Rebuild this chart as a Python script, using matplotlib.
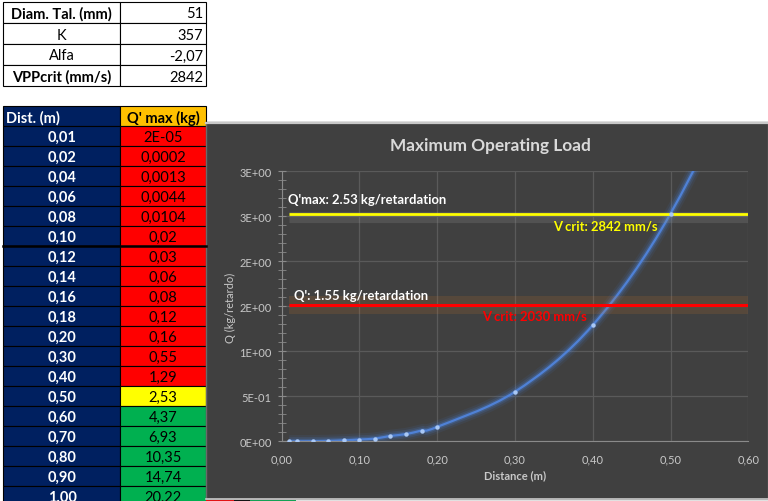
import matplotlib
matplotlib.use('Agg')
import matplotlib.pyplot as plt
from matplotlib.patches import Rectangle, PathPatch
from matplotlib.path import Path

plt.rcParams['font.family'] = ['Lato', 'DejaVu Sans']

W, H = 768, 502

# top parameter table
param_names = ['Diam. Tal. (mm)', 'K', 'Alfa', 'VPPcrit (mm/s)']
param_values = ['51', '357', '-2,07', '2842']
param_bold = [True, False, False, True]

# distance / load table (also the chart series)
dist = [0.01, 0.02, 0.04, 0.06, 0.08, 0.10, 0.12, 0.14, 0.16, 0.18, 0.20,
        0.30, 0.40, 0.50, 0.60, 0.70, 0.80, 0.90, 1.00]
dist_labels = ['0,01', '0,02', '0,04', '0,06', '0,08', '0,10', '0,12', '0,14',
               '0,16', '0,18', '0,20', '0,30', '0,40', '0,50', '0,60', '0,70',
               '0,80', '0,90', '1,00']
q_max = [0.00002, 0.0002, 0.0013, 0.0044, 0.0104, 0.02, 0.03, 0.06, 0.08,
         0.12, 0.16, 0.55, 1.29, 2.53, 4.37, 6.93, 10.35, 14.74, 20.22]
q_labels = ['2E-05', '0,0002', '0,0013', '0,0044', '0,0104', '0,02', '0,03',
            '0,06', '0,08', '0,12', '0,16', '0,55', '1,29', '2,53', '4,37',
            '6,93', '10,35', '14,74', '20,22']

q_max_limit = 2.53   # Q'max, yellow line
q_prime_line = 1.51  # Q', red line (as drawn)

x_ticks = [0.0, 0.1, 0.2, 0.3, 0.4, 0.5, 0.6]
x_tick_labels = ['0,00', '0,10', '0,20', '0,30', '0,40', '0,50', '0,60']
y_ticks = [0.0, 0.5, 1.0, 1.5, 2.0, 2.5, 3.0]
y_tick_labels = ['0E+00', '5E-01', '1E+00', '2E+00', '2E+00', '3E+00', '3E+00']

NAVY = '#002060'
RED = '#FF0000'
YELLOW = '#FFFF00'
GREEN = '#00B050'
ORANGE = '#FFC000'
PANEL = '#404040'
GRID = '#5a5a5a'
TXT = '#c8c8c8'
FS = 10.5  # table font size

fig = plt.figure(figsize=(W / 100, H / 100), dpi=100)
fig.patch.set_facecolor('white')

bg = fig.add_axes([0, 0, 1, 1])
bg.set_xlim(0, W)
bg.set_ylim(H, 0)
bg.axis('off')

# --- parameter table ---
c0, c1, c2 = 3, 120, 206
row_h = 21
y0 = 3
for i, name in enumerate(param_names):
    top = y0 + i * row_h
    bg.add_patch(Rectangle((c0, top), c1 - c0, row_h, fc='white', ec='black', lw=0.8))
    bg.add_patch(Rectangle((c1, top), c2 - c1, row_h, fc='white', ec='black', lw=0.8))
    bg.text((c0 + c1) / 2, top + row_h / 2 + 1, name, ha='center', va='center',
            fontsize=FS, fontweight='bold' if param_bold[i] else 'normal', color='black')
    bg.text(c2 - 3, top + row_h / 2 + 1, param_values[i], ha='right', va='center',
            fontsize=FS, color='black')

# --- distance table ---
hdr_top = 107.3
hdr_h = 20
bg.add_patch(Rectangle((c0, hdr_top), c1 - c0, hdr_h, fc=NAVY, ec='black', lw=0.8))
bg.add_patch(Rectangle((c1, hdr_top), c2 - c1, hdr_h, fc=ORANGE, ec='black', lw=0.8))
bg.text(c0 + 3, hdr_top + hdr_h / 2 + 1, 'Dist. (m)', ha='left', va='center',
        fontsize=FS, fontweight='bold', color='white')
bg.text((c1 + c2) / 2, hdr_top + hdr_h / 2 + 1, "Q' max (kg)", ha='center', va='center',
        fontsize=FS, fontweight='bold', color='black')

for i, (d, ql, qv) in enumerate(zip(dist_labels, q_labels, q_max)):
    top = hdr_top + hdr_h + i * 20
    if qv < q_max_limit:
        col = RED
    elif qv == q_max_limit:
        col = YELLOW
    else:
        col = GREEN
    bg.add_patch(Rectangle((c0, top), c1 - c0, 20, fc=NAVY, ec='black', lw=0.8))
    bg.add_patch(Rectangle((c1, top), c2 - c1, 20, fc=col, ec='black', lw=0.8))
    bg.text(62, top + 10.5, d, ha='center', va='center', fontsize=FS,
            fontweight='bold', color='white')
    bg.text(163, top + 10.5, ql, ha='center', va='center', fontsize=FS, color='black')
    if d == '0,10':
        bg.plot([c0, c2], [top + 20, top + 20], color='black', lw=1.8)

# cells hidden behind the chart, peeking out at the bottom
bg.add_patch(Rectangle((206, 499), 28, 4, fc=RED, ec='none'))
bg.add_patch(Rectangle((234, 499), 16, 4, fc='black', ec='none'))
bg.add_patch(Rectangle((250, 499), 46, 4, fc=GREEN, ec='none'))

# --- chart panel ---
bg.add_patch(Rectangle((206, 123), W - 206, 377, fc=PANEL, ec='#6a6a6a', lw=1))
bg.plot([206, W], [123.5, 123.5], color='#c8c8c8', lw=1.6)
bg.plot([206, W], [499.8, 499.8], color='#c8c8c8', lw=1.2)

left, right, top_px, bot_px = 281.5, 748.3, 172.3, 442.3
ax = fig.add_axes([left / W, 1 - bot_px / H, (right - left) / W, (bot_px - top_px) / H])
ax.set_facecolor('none')
ax.set_xlim(0, 0.6)
ax.set_ylim(0, 3)

ax.set_xticks(x_ticks)
ax.set_xticklabels(x_tick_labels)
ax.set_yticks(y_ticks)
ax.set_yticklabels(y_tick_labels)
ax.set_yticks([v / 10 for v in range(31)], minor=True)
ax.grid(True, which='major', color=GRID, lw=0.9)
ax.set_axisbelow(True)
for s in ['top', 'right']:
    ax.spines[s].set_visible(False)
ax.spines['left'].set_color('#8a8a8a')
ax.spines['bottom'].set_color('#8a8a8a')
ax.tick_params(axis='x', length=0, labelsize=8, labelcolor=TXT, pad=9)
ax.tick_params(axis='y', which='both', direction='inout', length=6, color='#8a8a8a',
               labelsize=8, labelcolor=TXT, pad=4)

# horizontal limit lines with glow
ax.plot([0.01, 0.6], [q_max_limit - 0.04, q_max_limit - 0.04], color='#8a8a8a',
        lw=8, alpha=0.25, solid_capstyle='butt')
ax.plot([0.01, 0.6], [q_max_limit, q_max_limit], color=YELLOW, lw=2, solid_capstyle='butt')
ax.plot([0.01, 0.6], [q_prime_line, q_prime_line], color='#e07a20', lw=13, alpha=0.14,
        solid_capstyle='butt')
ax.plot([0.01, 0.6], [q_prime_line, q_prime_line], color=RED, lw=2.2, solid_capstyle='butt')

# smoothed series (Catmull-Rom as Bezier path through the data points)
pts = list(zip(dist, q_max))
verts = [pts[0]]
codes = [Path.MOVETO]
n = len(pts)
for i in range(n - 1):
    p0 = pts[i - 1] if i > 0 else pts[i]
    p1 = pts[i]
    p2 = pts[i + 1]
    p3 = pts[i + 2] if i + 2 < n else pts[i + 1]
    c1p = (p1[0] + (p2[0] - p0[0]) / 6, p1[1] + (p2[1] - p0[1]) / 6)
    c2p = (p2[0] - (p3[0] - p1[0]) / 6, p2[1] - (p3[1] - p1[1]) / 6)
    verts += [c1p, c2p, p2]
    codes += [Path.CURVE4] * 3
path = Path(verts, codes)
for lw, a in [(9, 0.08), (6, 0.14), (3.5, 0.25)]:
    ax.add_patch(PathPatch(path, fill=False, ec='#4a86e8', lw=lw, alpha=a))
ax.add_patch(PathPatch(path, fill=False, ec='#4f81d6', lw=1.6))
ax.plot(dist, q_max, 'o', ms=3.2, color='#a9c8f5', mec='none', zorder=5)

# labels
LFS = 9.4
ax.text(0.008, 2.69, "Q'max: 2.53 kg/retardation", color='white', fontsize=LFS,
        fontweight='bold', va='center', ha='left')
ax.text(0.016, 1.62, "Q': 1.55 kg/retardation", color='white', fontsize=LFS,
        fontweight='bold', va='center', ha='left')
ax.text(0.349, 2.40, 'V crit: 2842 mm/s', color=YELLOW, fontsize=LFS,
        fontweight='bold', va='center', ha='left')
ax.text(0.258, 1.40, 'V crit: 2030 mm/s', color=RED, fontsize=LFS,
        fontweight='bold', va='center', ha='left')

fig.text(490 / W, 1 - 146 / H, 'Maximum Operating Load', ha='center', va='center',
         fontsize=12.4, fontweight='bold', color='#d9d9d9')
fig.text(230 / W, 1 - 308 / H, 'Q (kg/retardo)', ha='center', va='center',
         rotation=90, fontsize=8, color=TXT)
fig.text(515 / W, 1 - 476 / H, 'Distance (m)', ha='center', va='center',
         fontsize=8, fontweight='bold', color=TXT)

fig.savefig('out.png', dpi=100)
